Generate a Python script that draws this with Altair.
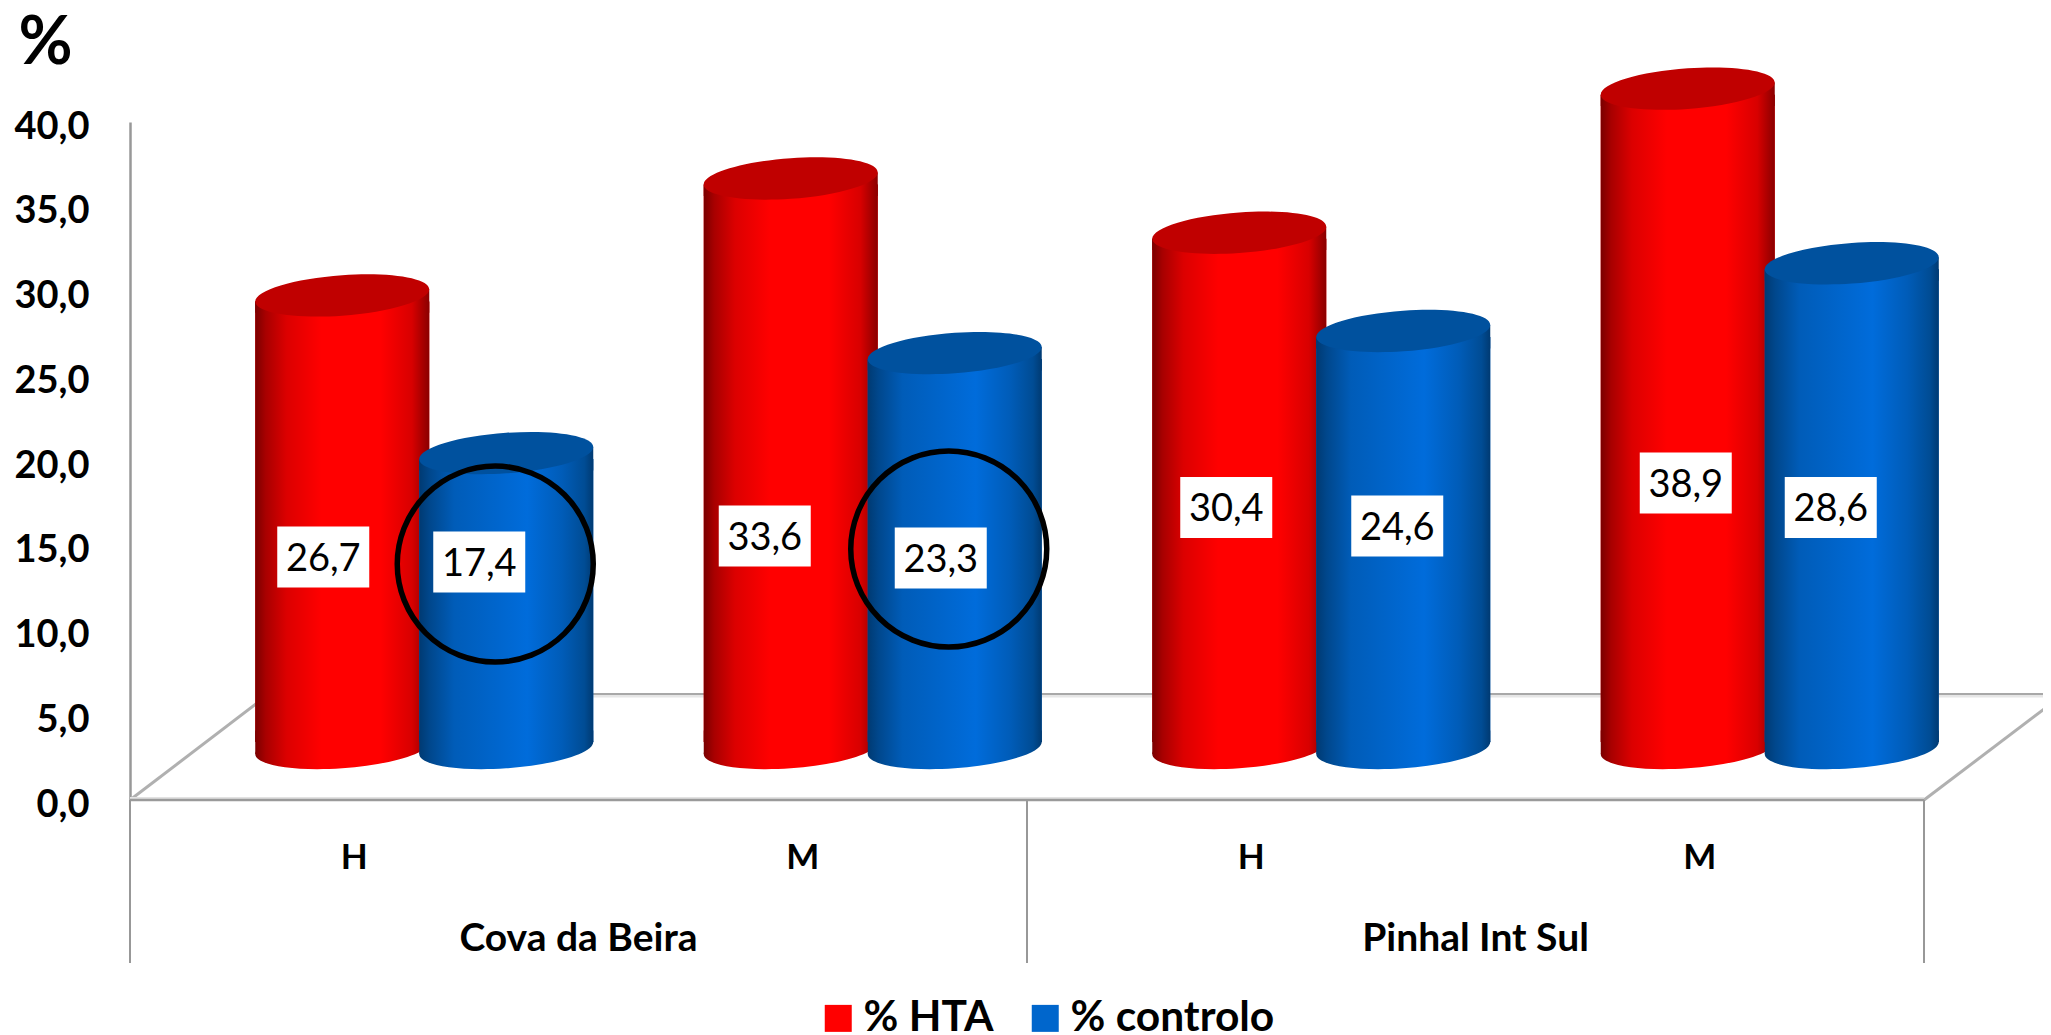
import altair as alt
import pandas as pd

regions = ["Cova da Beira", "Cova da Beira", "Pinhal Int Sul", "Pinhal Int Sul"]
sexes = ["H", "M", "H", "M"]
series = ["% HTA", "% controlo"]
hta = [26.7, 33.6, 30.4, 38.9]
controlo = [17.4, 23.3, 24.6, 28.6]
y_ticks = [0, 5, 10, 15, 20, 25, 30, 35, 40]

# Where the white value boxes sit, read in axis units, and their sideways shift in px
hta_label_level = [14.34, 15.58, 17.26, 18.70]
controlo_label_level = [14.04, 14.28, 16.17, 17.26]
hta_label_shift = [-19, -26, -13, -2]
controlo_label_shift = [-27, -14, -6, -21]
# The two hand-drawn circles
circle_cat = [0, 1]
circle_level = [13.92, 14.81]
circle_shift = [-11, -6]

cats = [f"{r}|{s}" for r, s in zip(regions, sexes)]
rows = []
for i, c in enumerate(cats):
    rows.append(dict(cat=c, series=series[0], value=hta[i], label=f"{hta[i]:.1f}".replace(".", ","),
                     level=hta_label_level[i], shift=hta_label_shift[i]))
    rows.append(dict(cat=c, series=series[1], value=controlo[i], label=f"{controlo[i]:.1f}".replace(".", ","),
                     level=controlo_label_level[i], shift=controlo_label_shift[i]))
df = pd.DataFrame(rows)
one = pd.DataFrame({"a": [0]})

PW, PH = 1794, 678
FONT = "Lato"
DEPTH_Y = -52
BAR_W = 174
# horizontal place of each series' bar relative to the category centre (depth + side)
SERIES_X = {series[0]: 70 - 82, series[1]: 70 + 82}


def tilted(b=-0.07, a=0.233):
    k = 0.5523
    p = lambda t: " ".join(f"{v:.4f}" for xy in t for v in xy)
    s = f"M1,{b}"
    s += "C" + p([(1, b + k * a), (k, a + k * b), (0, a)])
    s += "C" + p([(-k, a - k * b), (-1, -b + k * a), (-1, -b)])
    s += "C" + p([(-1, -b - k * a), (-k, -a - k * b), (0, -a)])
    s += "C" + p([(k, -a + k * b), (1, b - k * a), (1, b)])
    return s + "Z"


ELLIPSE = tilted()
CAP = "M-1,0.07L1,-0.07L1,0.2L-1,0.2Z"
FOOT = "M-1,-0.2L1,-0.2L1,-0.07L-1,0.07Z"
BOX = "M-1,-0.663L1,-0.663L1,0.663L-1,0.663Z"


def grad(stops):
    return {"gradient": "linear", "x1": 0, "x2": 1, "y1": 0, "y2": 0,
            "stops": [{"offset": o, "color": c} for o, c in stops]}


GRAD = {
    series[0]: grad([(0, "#7a0000"), (0.06, "#a80000"), (0.18, "#dc0000"), (0.38, "#ff0000"),
                     (0.72, "#ff0000"), (0.9, "#d80000"), (1, "#8a0000")]),
    series[1]: grad([(0, "#003a72"), (0.06, "#00478c"), (0.2, "#005cb8"), (0.62, "#006cdb"),
                     (0.82, "#005cb8"), (0.95, "#004c94"), (1, "#003a72")]),
}
TOP = {series[0]: "#c00000", series[1]: "#00519e"}

GREY = "#989898"
xs = alt.Scale(domain=cats, paddingInner=1 - 328 / 448.5, paddingOuter=(1 - 328 / 448.5) / 2)
ys = alt.Scale(domain=[0, 40], nice=False, zero=True)
x_axis = alt.Axis(
    title=None, ticks=False, domain=False, labelAngle=0, labelExpr="split(datum.value,'|')[1]",
    labelFont=FONT, labelFontSize=35, labelFontWeight="bold", labelColor="black",
    labelPadding=57, labelBaseline="middle")
y_axis = alt.Axis(
    title="%", titleAngle=0, titleX=-85, titleY=-59, titleAlign="center", titleBaseline="alphabetic",
    titleFont=FONT, titleFontSize=66, titleFontWeight="bold", titleColor="black",
    values=y_ticks, grid=False, ticks=False, domainColor=GREY, domainWidth=2.5,
    labelExpr="replace(format(datum.value,'.1f'),'.',',')",
    labelFont=FONT, labelFontSize=38, labelFontWeight="bold", labelColor="black",
    labelPadding=41, labelOffset=5)
X = alt.X("cat:N", scale=xs, axis=x_axis, sort=cats)
Y = alt.Y("value:Q", scale=ys, axis=y_axis)
L = alt.Y("level:Q", scale=ys, axis=y_axis)
Y0 = alt.Y(datum=0, scale=ys, axis=y_axis)
COLOR = alt.Color("series:N", scale=alt.Scale(domain=series, range=["#ff0000", "#0066cc"]), legend=alt.Legend(
    title=None, orient="none", legendX=687, legendY=875, direction="horizontal",
    symbolType="square", symbolSize=729, symbolStrokeWidth=0, symbolOpacity=1,
    labelFont=FONT, labelFontSize=42.5, labelFontWeight="bold", labelColor="black", labelLimit=0,
    labelOffset=4, columnPadding=30))


def line(x, x2, y, y2, color=GREY, w=2.0):
    return alt.Chart(one).mark_rule(color=color, strokeWidth=w).encode(
        x=alt.value(x), x2=alt.value(x2), y=alt.value(y), y2=alt.value(y2))


layers = [
    line(139, 1934, 574, 574, "#e6e6e6", 3),
    line(139, 1934, 572, 572, "#a8a8a8", 2),
    line(0, 139, 678, 572, "#b0b0b0", 3),
    line(1794, 1934, 678, 572, "#b0b0b0", 3),
    line(0, 1794, 676, 676, "#e2e2e2", 2),
    line(0, 1794, 678, 678, "#9a9a9a", 2.5),
    line(0, 0, 678, 841),
    line(897, 897, 678, 841),
    line(1794, 1794, 678, 841),
]

for s in series:
    d = df[df.series == s]
    sx = SERIES_X[s]
    pt = dict(size=BAR_W ** 2, filled=True, opacity=1, strokeWidth=0, xOffset=sx)
    # solid bar: carries the legend, sits under the shaded one
    layers.append(alt.Chart(d).mark_bar(width=BAR_W, yOffset=DEPTH_Y + 6, y2Offset=DEPTH_Y - 6, xOffset=sx).encode(
        x=X, y=Y, y2=alt.datum(0), color=COLOR))
    layers.append(alt.Chart(d).mark_point(shape=ELLIPSE, fill=GRAD[s], yOffset=DEPTH_Y, **pt).encode(x=X, y=Y0))
    layers.append(alt.Chart(d).mark_point(shape=FOOT, fill=GRAD[s], yOffset=DEPTH_Y, **pt).encode(x=X, y=Y0))
    layers.append(alt.Chart(d).mark_bar(width=BAR_W, color=GRAD[s], yOffset=DEPTH_Y + 6, y2Offset=DEPTH_Y - 6,
                                        xOffset=sx).encode(x=X, y=Y, y2=alt.datum(0)))
    layers.append(alt.Chart(d).mark_point(shape=CAP, fill=GRAD[s], yOffset=DEPTH_Y, **pt).encode(x=X, y=Y))
    layers.append(alt.Chart(d).mark_point(shape=ELLIPSE, fill=TOP[s], yOffset=DEPTH_Y, **pt).encode(x=X, y=Y))

for i in range(len(df)):
    d = df.iloc[[i]]
    sx = SERIES_X[d["series"].iloc[0]] + int(d["shift"].iloc[0])
    layers.append(alt.Chart(d).mark_point(shape=BOX, size=92 ** 2, filled=True, fill="white", opacity=1,
                                          strokeWidth=0, xOffset=sx).encode(x=X, y=L))
    layers.append(alt.Chart(d).mark_text(font=FONT, fontSize=38, color="black", baseline="middle", align="center",
                                         xOffset=sx, yOffset=3).encode(x=X, y=L, text="label:N"))

for c, lv, sh in zip(circle_cat, circle_level, circle_shift):
    d = pd.DataFrame({"cat": [cats[c]], "level": [lv]})
    layers.append(alt.Chart(d).mark_point(shape="circle", size=196 ** 2, filled=False, stroke="black", strokeWidth=5.5,
                                          opacity=1, xOffset=SERIES_X[series[1]] + sh).encode(x=X, y=L))

groups = pd.DataFrame({"cat": [cats[0], cats[2]], "region": [regions[0], regions[2]]})
layers.append(alt.Chart(groups).mark_text(font=FONT, fontSize=39, fontWeight="bold", color="black", baseline="middle",
                                          align="center", xOffset=224.25).encode(
    x=X, y=alt.value(817), text="region:N"))

chart = alt.layer(*layers).properties(
    width=PW, height=PH,
    autosize=alt.AutoSizeParams(type="none"),
    padding={"left": 122, "top": 114, "right": 2035 - PW - 122, "bottom": 1027 - PH - 114},
    background="white",
).configure_view(stroke=None)

chart.save("out.html", embed_options={"renderer": "svg", "actions": False})
